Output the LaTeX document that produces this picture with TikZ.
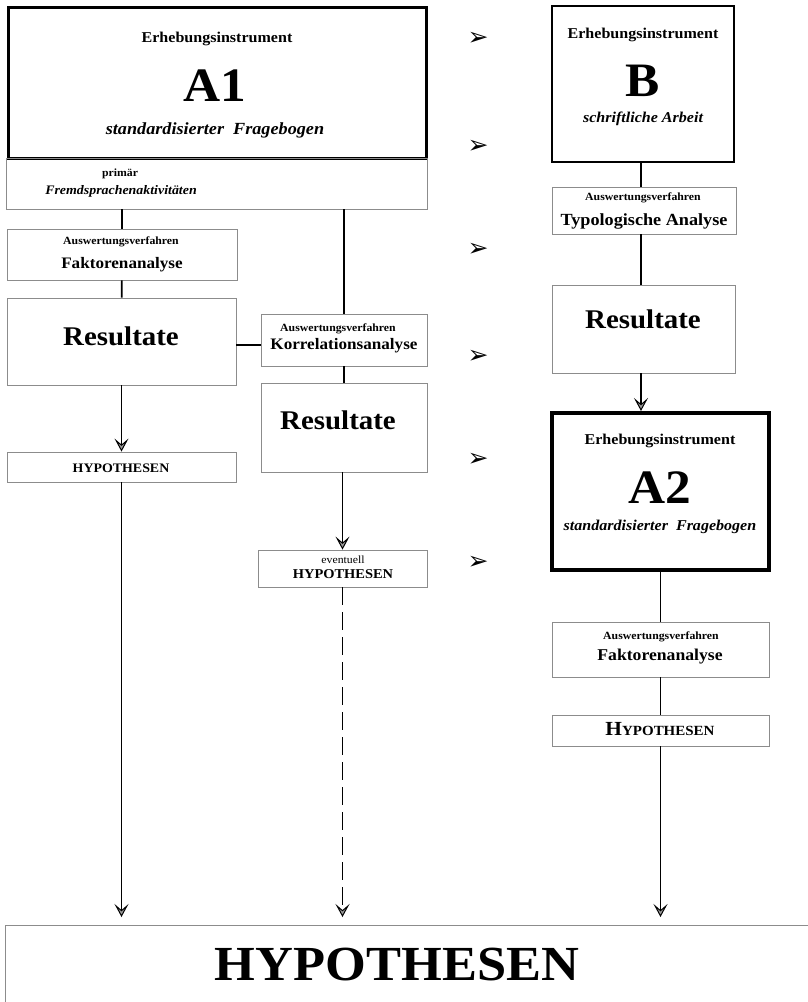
\documentclass[tikz,border=0pt]{standalone}
\usepackage{fontspec}
\setmainfont[FakeStretch=1.07]{Liberation Serif}
\newfontfamily\dingfont{DejaVu Sans}
\usetikzlibrary{arrows.meta}
\newcommand{\fsz}[1]{\fontsize{#1}{#1}\selectfont}
\tikzset{
  frame/.style n args={2}{draw=black!45, line width=0.9pt, minimum width=#1, minimum height=#2, inner sep=0pt},
  txt/.style={anchor=base, inner sep=0pt},
  conn/.style={line width=1.7pt},
  arr/.style={conn, -{Stealth[line width=1pt, length=13pt, width=14pt, inset=6pt, fill=black!40]}},
  marker/.style={font={\dingfont\fsz{25}}, inner sep=0pt},
}
\begin{document}
\begin{tikzpicture}[x=1pt, y=-1pt]
\useasboundingbox (0,0) rectangle (808,1002);
% linke Spalte
\node[frame={418pt}{151pt}, draw=black, line width=3pt] (A1) at (217,82.5) {};
\node[frame={421pt}{51pt}] (prim) at (216.5,183.5) {};
\node[frame={230pt}{51pt}] (fakt1) at (122,254.5) {};
\node[frame={229pt}{87pt}] (res1) at (121.5,341.5) {};
\node[frame={229pt}{30pt}] (hyp1) at (121.5,467) {};
% mittlere Spalte
\node[frame={166pt}{52pt}] (korr) at (344,340) {};
\node[frame={166pt}{89pt}] (res2) at (344,427.5) {};
\node[frame={169pt}{37pt}] (ev) at (342.5,568.5) {};
% rechte Spalte
\node[frame={182pt}{156pt}, draw=black, line width=2pt] (B) at (643,84) {};
\node[frame={184pt}{47pt}] (typ) at (644,210.5) {};
\node[frame={183pt}{88pt}] (res3) at (643.5,329) {};
\node[frame={217pt}{157pt}, draw=black, line width=4pt] (A2) at (660.5,491.5) {};
\node[frame={217pt}{55pt}] (fakt2) at (660.5,649.5) {};
\node[frame={217pt}{31pt}] (hyp3) at (660.5,730.5) {};
% unten
\node[frame={807pt}{81pt}, anchor=north west] (hyp) at (5,925) {};

% Texte
\node[txt, font={\fsz{15}\bfseries}] (A1a) at (217,42) {Erhebungsinstrument};
\node[txt, font={\fsz{48}\bfseries}] (A1b) at (215,101) {A1};
\node[txt, font={\fsz{17}\bfseries\itshape}] (A1c) at (215,134) {standardisierter\ \ Fragebogen};
\node[txt, font={\fsz{11}\bfseries}] (prima) at (120,176) {primär};
\node[txt, font={\fsz{13}\bfseries\itshape}] (primb) at (121,194) {Fremdsprachenaktivitäten};
\node[txt, font={\fsz{11}\bfseries}] (fakt1a) at (121,244) {Auswertungsverfahren};
\node[txt, font={\fsz{16}\bfseries}] (fakt1b) at (122,268) {Faktorenanalyse};
\node[txt, font={\fsz{27}\bfseries}] (res1a) at (121,345) {Resultate};
\node[txt, font={\fsz{13}\bfseries}] (hyp1a) at (121,472) {HYPOTHESEN};
\node[txt, font={\fsz{11}\bfseries}] (korra) at (338,331) {Auswertungsverfahren};
\node[txt, font={\fsz{16}\bfseries}] (korrb) at (344,349) {Korrelationsanalyse};
\node[txt, font={\fsz{27}\bfseries}] (res2a) at (338,429) {Resultate};
\node[txt, font={\fsz{11}}] (eva) at (343,563) {eventuell};
\node[txt, font={\fsz{13.5}\bfseries}] (evb) at (343,578) {HYPOTHESEN};
\node[txt, font={\fsz{15}\bfseries}] (Ba) at (643,38) {Erhebungsinstrument};
\node[txt, font={\fsz{48}\bfseries}] (Bb) at (643,96) {B};
\node[txt, font={\fsz{15}\bfseries\itshape}] (Bc) at (643,122) {schriftliche\ Arbeit};
\node[txt, font={\fsz{11}\bfseries}] (typa) at (643,200) {Auswertungsverfahren};
\node[txt, font={\fsz{17}\bfseries}] (typb) at (644,225) {Typologische\ Analyse};
\node[txt, font={\fsz{27}\bfseries}] (res3a) at (643,328) {Resultate};
\node[txt, font={\fsz{15}\bfseries}] (A2a) at (660,444) {Erhebungsinstrument};
\node[txt, font={\fsz{48}\bfseries}] (A2b) at (660,503) {A2};
\node[txt, font={\fsz{15}\bfseries\itshape}] (A2c) at (660,530) {standardisierter\ \ Fragebogen};
\node[txt, font={\fsz{11}\bfseries}] (fakt2a) at (661,639) {Auswertungsverfahren};
\node[txt, font={\fsz{16.5}\bfseries}] (fakt2b) at (660,660) {Faktorenanalyse};
\node[txt, font=\bfseries] (hyp3a) at (660,735) {{\fsz{20}H}{\fsz{14}YPOTHESEN}};
\node[txt, font={\fsz{49}\bfseries}] (hypa) at (397,980) {HYPOTHESEN};

% Verbindungen
\draw[conn] (prim.south -| fakt1) -- (fakt1.north);
\draw[conn] (fakt1) -- (res1);
\draw[arr] (res1) -- (hyp1);
\draw[arr, shorten >=8pt] (hyp1.south) -- (hyp1.south |- hyp.north);
\draw[conn] (prim.south -| korr) -- (korr.north);
\coordinate (kw) at ([yshift=-5pt]korr.west);
\draw[conn] (kw -| res1.east) -- (kw);
\draw[conn] (korr) -- (res2);
\draw[arr] (res2.south -| ev) -- (ev.north);
\draw[arr, dash pattern=on 18pt off 7pt, shorten >=8pt] (ev.south) -- (ev.south |- hyp.north);
\draw[conn] (B.south -| 641,0) -- (typ.north -| 641,0);
\draw[conn] (typ.south -| 641,0) -- (res3.north -| 641,0);
\draw[arr] (res3.south -| 641,0) -- (A2.north -| 641,0);
\draw[conn] (A2) -- (fakt2);
\draw[conn] (fakt2) -- (hyp3);
\draw[arr, shorten >=8pt] (hyp3.south) -- (hyp3.south |- hyp.north);

% Pfeilspitzen
\foreach \y [count=\i] in {39,147,250,357,460,563}
  \node[marker] (m\i) at (478,\y) {➢};
\end{tikzpicture}
\end{document}
